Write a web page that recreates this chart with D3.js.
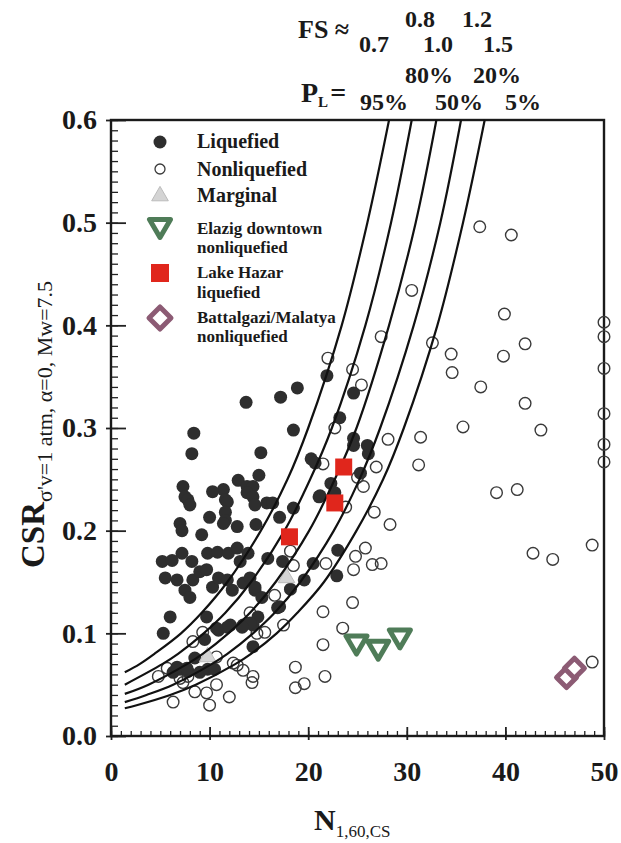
<!DOCTYPE html>
<html>
<head>
<meta charset="utf-8">
<script src="https://cdn.jsdelivr.net/npm/d3@7"></script>
<style>
  body { margin: 0; background: #fff; }
  svg text { font-family: "Liberation Serif", "Times New Roman", serif; fill: #1a1a1a; }
</style>
</head>
<body>
<div id="chart"></div>
<script>
// ---- data: [N1,60,CS, CSR] ----
const liquefied = [
  [21.9,0.351],[18.9,0.339],[17.2,0.330],[24.6,0.334],[13.7,0.325],[23.2,0.310],[18.5,0.298],[8.4,0.295],
  [24.6,0.290],[24.6,0.283],[8.2,0.275],[15.2,0.276],[26.1,0.275],[20.3,0.270],[20.7,0.266],[25.3,0.256],
  [15.0,0.254],[12.9,0.249],[22.3,0.246],[7.3,0.243],[13.8,0.243],[14.4,0.243],[11.4,0.240],[10.3,0.238],
  [13.8,0.237],[22.7,0.237],[21.2,0.234],[21.1,0.233],[14.4,0.233],[7.5,0.233],[7.8,0.230],[11.6,0.230],
  [11.8,0.228],[15.8,0.227],[16.4,0.227],[14.6,0.225],[8.0,0.225],[18.5,0.222],[11.6,0.218],[17.1,0.213],
  [10.0,0.213],[11.6,0.210],[14.7,0.206],[11.4,0.207],[7.0,0.207],[12.8,0.204],[7.2,0.200],[9.2,0.196],
  [5.2,0.170],[6.2,0.171],[7.2,0.178],[8.2,0.170],[9.8,0.178],[10.8,0.179],[11.9,0.178],[12.8,0.183],
  [13.1,0.170],[13.9,0.178],[15.9,0.173],[17.4,0.170],[20.5,0.168],[23.0,0.181],[22.9,0.156],[5.5,0.154],
  [6.7,0.152],[7.5,0.142],[8.3,0.152],[9.0,0.160],[9.7,0.162],[10.3,0.145],[10.9,0.154],[11.8,0.152],
  [12.3,0.142],[13.4,0.149],[14.1,0.154],[14.6,0.142],[15.3,0.135],[19.6,0.152],[18.2,0.143],[16.9,0.125],
  [14.6,0.145],[8.0,0.135],[17.1,0.126],[14.9,0.116],[14.4,0.108],[13.4,0.108],[12.1,0.108],[10.9,0.103],
  [9.7,0.116],[6.0,0.116],[5.3,0.100],[9.5,0.094],[14.4,0.087],[11.8,0.106],[10.7,0.105],[8.5,0.076],
  [6.3,0.062],[7.0,0.065],[7.8,0.063],[9.0,0.062],[9.8,0.065],[10.5,0.065],[6.7,0.067],[7.7,0.066],
  [14.1,0.110],[13.3,0.106],[26.0,0.283]
];
const nonliquefied = [
  [37.4,0.496],[40.6,0.488],[30.5,0.434],[39.9,0.411],[27.4,0.389],[32.6,0.383],[34.5,0.372],[42.0,0.382],
  [39.8,0.370],[34.6,0.354],[37.5,0.340],[42.0,0.324],[50,0.403],[50,0.389],[50,0.358],[50,0.314],
  [50,0.284],[50,0.267],[43.6,0.298],[35.7,0.301],[28.1,0.289],[31.4,0.291],[31.2,0.264],[39.1,0.237],
  [41.2,0.240],[28.3,0.206],[42.8,0.178],[44.8,0.172],[48.8,0.186],[48.8,0.072],
  [22.0,0.368],[24.5,0.357],[25.4,0.342],[22.7,0.300],[26.9,0.262],[25.0,0.252],[25.6,0.243],[26.7,0.218],
  [23.8,0.223],[25.8,0.183],[24.8,0.175],[24.6,0.162],[26.5,0.167],[27.4,0.168],[21.8,0.168],[18.5,0.166],
  [18.2,0.180],[24.5,0.130],[21.5,0.121],[23.5,0.105],[21.5,0.089],[18.7,0.067],[21.7,0.058],[19.6,0.051],
  [18.7,0.047],[17.5,0.108],[21.5,0.265],[16.6,0.137],[15.6,0.101],[14.4,0.058],[14.3,0.052],
  [4.8,0.058],[6.3,0.033],[10.0,0.030],[8.5,0.043],[9.7,0.042],[10.7,0.050],[12.0,0.038],[7.3,0.052],
  [7.8,0.058],[7.0,0.056],[5.7,0.066],[8.3,0.092],[9.3,0.101],[10.7,0.077],[12.8,0.069],[12.4,0.071],
  [13.4,0.064],[14.1,0.120],[14.8,0.100]
];
const marginal = [[17.8,0.154],[9.8,0.077]];
const elazig = [[24.9,0.090],[27.1,0.085],[29.3,0.096]];
const lakeHazar = [[23.6,0.262],[22.7,0.227],[18.1,0.194]];
const battalgazi = [[46.2,0.057],[47.0,0.066]];

// boundary curves (probability of liquefaction)
const curvePL95 = [[1.4,0.062],[2.9,0.07],[4.4,0.08],[7.1,0.10],[9.2,0.12],[11.8,0.15],[15.2,0.20],[17.9,0.25],[20.0,0.30],[23.4,0.40],[26.0,0.50],[28.2,0.60]];
const curvePL80 = [[1.4,0.050],[5.2,0.07],[6.8,0.08],[9.4,0.10],[11.6,0.12],[14.2,0.15],[17.6,0.20],[20.2,0.25],[22.4,0.30],[25.8,0.40],[28.4,0.50],[30.5,0.60]];
const curvePL50 = [[1.4,0.041],[3.8,0.05],[7.7,0.07],[9.3,0.08],[11.9,0.10],[14.1,0.12],[16.7,0.15],[20.1,0.20],[22.7,0.25],[24.9,0.30],[28.2,0.40],[30.9,0.50],[33.0,0.60]];
const curvePL20 = [[1.4,0.033],[3.6,0.04],[6.3,0.05],[10.2,0.07],[11.8,0.08],[14.4,0.10],[16.6,0.12],[19.2,0.15],[22.6,0.20],[25.2,0.25],[27.3,0.30],[30.7,0.40],[33.4,0.50],[35.5,0.60]];
const curvePL5 = [[1.4,0.027],[2.6,0.03],[6.0,0.04],[8.6,0.05],[12.6,0.07],[14.2,0.08],[16.8,0.10],[18.9,0.12],[21.6,0.15],[24.9,0.20],[27.6,0.25],[29.7,0.30],[33.1,0.40],[35.7,0.50],[37.9,0.60]];

const xTicks = [0, 10, 20, 30, 40, 50];
const yTicks = [0.0, 0.1, 0.2, 0.3, 0.4, 0.5, 0.6];

// ---- layout ----
const W = 621, H = 843;
const box = {left: 111, right: 604, top: 120, bottom: 736};

const svg = d3.select("#chart").append("svg")
  .attr("width", W).attr("height", H);

const x = d3.scaleLinear().domain([0, 50]).range([box.left, box.right]);
const y = d3.scaleLinear().domain([0, 0.6]).range([box.bottom, box.top]);

// header annotations
const head = svg.append("g").attr("font-weight", "bold");
head.append("text").attr("x", 298).attr("y", 38).attr("font-size", 26).text("FS \u2248");
[["0.8", 405, 27], ["1.2", 462, 27], ["0.7", 359, 52], ["1.0", 423, 52], ["1.5", 483, 52],
 ["80%", 405, 83], ["20%", 473, 83], ["95%", 360, 110], ["50%", 435, 110], ["5%", 505, 110]]
  .forEach(d => head.append("text").attr("x", d[1]).attr("y", d[2]).attr("font-size", 24).text(d[0]));
const pl = head.append("text").attr("x", 301).attr("y", 102).attr("font-size", 28);
pl.append("tspan").text("P");
pl.append("tspan").attr("font-size", 15).attr("dy", 5).text("L");
pl.append("tspan").attr("dy", -5).attr("dx", 2).text("=");

// minor ticks
svg.append("g").attr("transform", `translate(0,${box.bottom})`)
  .call(d3.axisBottom(x).tickValues(d3.range(0, 51)).tickSize(-5).tickFormat(""))
  .call(g => g.select(".domain").remove())
  .selectAll("line").attr("stroke", "#222").attr("stroke-width", 1.3);
svg.append("g").attr("transform", `translate(${box.left},0)`)
  .call(d3.axisLeft(y).tickValues(d3.range(0, 61).map(i => i / 100)).tickSize(-7).tickFormat(""))
  .call(g => g.select(".domain").remove())
  .selectAll("line").attr("stroke", "#222").attr("stroke-width", 1.3);

// major ticks + labels
const xAxis = svg.append("g").attr("transform", `translate(0,${box.bottom})`)
  .call(d3.axisBottom(x).tickValues(xTicks).tickSize(4).tickPadding(21).tickFormat(d3.format("d")));
xAxis.select(".domain").remove();
xAxis.selectAll("line").attr("y1", -9).attr("stroke", "#222").attr("stroke-width", 1.8);
xAxis.selectAll("text").attr("font-size", 28).attr("font-weight", "bold").attr("fill", "#1a1a1a")
  .attr("font-family", "Liberation Serif, serif");

const yAxis = svg.append("g").attr("transform", `translate(${box.left},0)`)
  .call(d3.axisLeft(y).tickValues(yTicks).tickSize(5).tickPadding(9).tickFormat(d3.format(".1f")));
yAxis.select(".domain").remove();
yAxis.selectAll("line").attr("x1", 15).attr("stroke", "#222").attr("stroke-width", 1.8);
yAxis.selectAll("text").attr("font-size", 28).attr("font-weight", "bold").attr("fill", "#1a1a1a")
  .attr("font-family", "Liberation Serif, serif");

// frame
svg.append("rect").attr("x", box.left).attr("y", box.top)
  .attr("width", box.right - box.left).attr("height", box.bottom - box.top)
  .attr("fill", "none").attr("stroke", "#1a1a1a").attr("stroke-width", 2.4);

// axis titles
const yt = svg.append("text").attr("transform", `translate(44,568) rotate(-90)`);
yt.append("tspan").attr("font-size", 33).attr("font-weight", "bold").text("CSR");
yt.append("tspan").attr("font-size", 22).attr("dy", 8).text("\u03c3'v=1 atm, \u03b1=0, Mw=7.5");

const xt = svg.append("text").attr("x", 314).attr("y", 830);
xt.append("tspan").attr("font-size", 30).attr("font-weight", "bold").text("N");
xt.append("tspan").attr("font-size", 17).attr("dy", 7).text("1,60,CS");

// points
const plot = svg.append("g");
plot.selectAll(".nl").data(nonliquefied).join("circle")
  .attr("cx", d => x(d[0])).attr("cy", d => y(d[1])).attr("r", 5.8)
  .attr("fill", "none").attr("stroke", "#3a3a3a").attr("stroke-width", 1.4);
plot.selectAll(".lq").data(liquefied).join("circle")
  .attr("cx", d => x(d[0])).attr("cy", d => y(d[1])).attr("r", 6.5)
  .attr("fill", "#2e2e2e");

const tri = d3.symbol().type(d3.symbolTriangle);
plot.selectAll(".mg").data(marginal).join("path")
  .attr("d", tri.size(120)())
  .attr("transform", d => `translate(${x(d[0])},${y(d[1])})`)
  .attr("fill", "#d4d4d4").attr("stroke", "#bbb").attr("stroke-width", 1);

// boundary curves
const line = d3.line().x(d => x(d[0])).y(d => y(d[1])).curve(d3.curveCatmullRom);
[curvePL95, curvePL80, curvePL50, curvePL20, curvePL5].forEach(c =>
  plot.append("path").datum(c).attr("d", line)
    .attr("fill", "none").attr("stroke", "#111").attr("stroke-width", 2.2));

// site markers
const downTri = "M-10.5,-7.5L10.5,-7.5L0,10.5Z";
plot.selectAll(".el").data(elazig).join("path")
  .attr("d", downTri)
  .attr("transform", d => `translate(${x(d[0])},${y(d[1])})`)
  .attr("fill", "#fff").attr("stroke", "#4f7c58").attr("stroke-width", 5).attr("stroke-linejoin", "round");
plot.selectAll(".lh").data(lakeHazar).join("rect")
  .attr("x", d => x(d[0]) - 8.5).attr("y", d => y(d[1]) - 8.5)
  .attr("width", 17).attr("height", 17).attr("fill", "#e0261c");
const diamond = "M0,-10L10,0L0,10L-10,0Z";
plot.selectAll(".bm").data(battalgazi).join("path")
  .attr("d", diamond)
  .attr("transform", d => `translate(${x(d[0])},${y(d[1])})`)
  .attr("fill", "#fff").attr("stroke", "#8c5b74").attr("stroke-width", 5).attr("stroke-linejoin", "round");

// legend
const lg = svg.append("g").attr("font-weight", "bold");
const lx = 160, tx = 197;
lg.append("circle").attr("cx", lx).attr("cy", 142).attr("r", 6.5).attr("fill", "#2e2e2e");
lg.append("circle").attr("cx", lx).attr("cy", 169).attr("r", 5).attr("fill", "none").attr("stroke", "#3a3a3a").attr("stroke-width", 1.3);
lg.append("path").attr("d", tri.size(120)()).attr("transform", `translate(${lx},196)`)
  .attr("fill", "#d4d4d4").attr("stroke", "#bbb").attr("stroke-width", 1);
lg.append("path").attr("d", downTri).attr("transform", `translate(${lx},227)`)
  .attr("fill", "#fff").attr("stroke", "#4f7c58").attr("stroke-width", 5).attr("stroke-linejoin", "round");
lg.append("rect").attr("x", lx - 9).attr("y", 264).attr("width", 18).attr("height", 18).attr("fill", "#e0261c");
lg.append("path").attr("d", "M0,-11L11,0L0,11L-11,0Z").attr("transform", `translate(${lx},318)`)
  .attr("fill", "#fff").attr("stroke", "#8c5b74").attr("stroke-width", 5).attr("stroke-linejoin", "round");

[["Liquefied", 148, 20], ["Nonliquefied", 176, 20], ["Marginal", 202, 20],
 ["Elazig downtown", 234, 17], ["nonliquefied", 253, 17],
 ["Lake Hazar", 278, 17], ["liquefied", 298, 17],
 ["Battalgazi/Malatya", 323, 17], ["nonliquefied", 342, 17]]
  .forEach(d => lg.append("text").attr("x", tx).attr("y", d[1]).attr("font-size", d[2]).text(d[0]));
</script>
</body>
</html>
